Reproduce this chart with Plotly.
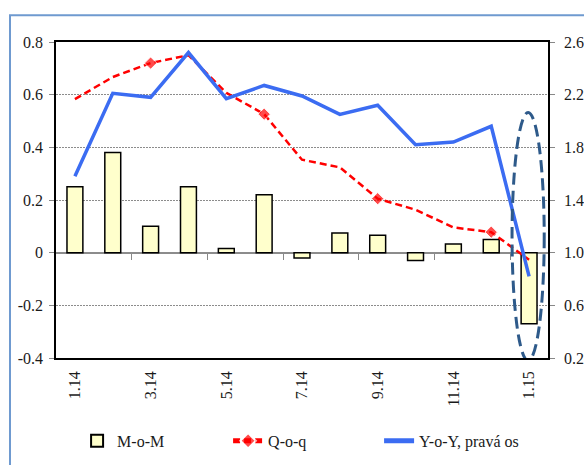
import plotly.graph_objects as go

months = ["1.14", "2.14", "3.14", "4.14", "5.14", "6.14", "7.14",
          "8.14", "9.14", "10.14", "11.14", "12.14", "1.15"]
mom = [0.25, 0.38, 0.10, 0.25, 0.016, 0.22, -0.02, 0.075, 0.066, -0.03, 0.033, 0.05, -0.27]
qoq = [0.583, 0.667, 0.72, 0.75, 0.607, 0.526, 0.353, 0.324, 0.205, 0.163, 0.096, 0.078, -0.027]
qoq_marker_size = [0, 0, 9.5, 0, 0, 9.5, 0, 0, 9.5, 0, 0, 9.5, 0]
yoy = [1.58, 2.21, 2.18, 2.52, 2.17, 2.27, 2.19, 2.05, 2.12, 1.82, 1.84, 1.96, 0.82]

x_tick_labels = ["1.14", "3.14", "5.14", "7.14", "9.14", "11.14", "1.15"]
left_tickvals = [-0.4, -0.2, 0, 0.2, 0.4, 0.6, 0.8]
left_ticktext = ["-0.4", "-0.2", "0", "0.2", "0.4", "0.6", "0.8"]
right_tickvals = [0.2, 0.6, 1.0, 1.4, 1.8, 2.2, 2.6]
right_ticktext = ["0.2", "0.6", "1.0", "1.4", "1.8", "2.2", "2.6"]
boundary_ticks = [1.5, 3.5, 5.5, 7.5, 9.5, 11.5]

FONT = "Liberation Serif, Times New Roman, serif"
TXT = "#1a1a1a"
TF = dict(family=FONT, size=16, color=TXT)

fig = go.Figure()
fig.add_trace(go.Bar(
    x=months, y=mom, name="M-o-M",
    marker=dict(color="#FFFFCC", line=dict(color="black", width=1.5)),
    width=0.42,
))
fig.add_trace(go.Scatter(
    x=months, y=qoq, name="Q-o-q", mode="lines+markers",
    line=dict(color="#FF0000", width=2.5, dash="7px,4px"),
    marker=dict(symbol="diamond", size=qoq_marker_size, color="#FF0000"),
))
fig.add_trace(go.Scatter(
    x=months, y=yoy, name="Y-o-Y, pravá os", mode="lines",
    line=dict(color="#3B6CF2", width=3.5), yaxis="y2",
))

fig.update_layout(
    template="none",
    width=584, height=465,
    margin=dict(l=56, r=36, t=42, b=107, autoexpand=False),
    paper_bgcolor="white", plot_bgcolor="white",
    font=TF,
    showlegend=True,
    bargap=0.5,
    xaxis=dict(
        type="category", categoryorder="array", categoryarray=months,
        range=[-0.5, 12.5],
        tickmode="array", tickvals=x_tick_labels, ticktext=x_tick_labels,
        tickangle=-90, ticks="", tickfont=TF, ticklabelstandoff=5,
        showline=True, linecolor="black", linewidth=1.5, mirror=True,
        showgrid=False, zeroline=False,
    ),
    xaxis2=dict(
        overlaying="x", anchor="free", position=1/3,
        range=[-0.5, 12.5], type="linear",
        tickmode="array", tickvals=boundary_ticks,
        ticks="outside", ticklen=6, tickcolor="#888888", tickwidth=1.2,
        showticklabels=False, showline=False, showgrid=False, zeroline=False,
    ),
    yaxis=dict(
        range=[-0.4, 0.8], tickmode="array",
        tickvals=left_tickvals, ticktext=left_ticktext, tickfont=TF,
        ticks="outside", ticklen=5, tickcolor="#888888", ticklabelstandoff=3,
        showline=True, linecolor="black", linewidth=1.5,
        showgrid=True, gridcolor="#8c8c8c", gridwidth=1, griddash="2px,1px",
        zeroline=True, zerolinecolor="#8c8c8c", zerolinewidth=1.5,
    ),
    yaxis2=dict(
        overlaying="y", side="right",
        range=[0.2, 2.6], tickmode="array",
        tickvals=right_tickvals, ticktext=right_ticktext, tickfont=TF,
        ticks="outside", ticklen=5, tickcolor="#888888", ticklabelstandoff=6,
        showline=True, linecolor="black", linewidth=1.5,
        showgrid=False, zeroline=False,
    ),
    legend=dict(
        orientation="h", xref="container", yref="container",
        x=0.132, xanchor="left", y=0.052, yanchor="middle",
        itemsizing="constant", entrywidth=106, traceorder="normal",
        font=TF, bgcolor="rgba(0,0,0,0)",
    ),
    shapes=[
        dict(type="circle", xref="x2", yref="y",
             x0=11.55, x1=12.4, y0=-0.41, y1=0.532,
             line=dict(color="#2E5A8A", width=3, dash="12px,6px"),
             layer="above"),
        dict(type="rect", xref="paper", yref="paper",
             x0=-0.0935, x1=1.3, y0=-0.5, y1=1.0844,
             line=dict(color="#6F9AD0", width=2), layer="below"),
    ],
)

fig.write_html(
    "out.html",
    config={"displayModeBar": False},
    post_script="document.body.style.margin='0';document.body.style.overflow='hidden';",
)
